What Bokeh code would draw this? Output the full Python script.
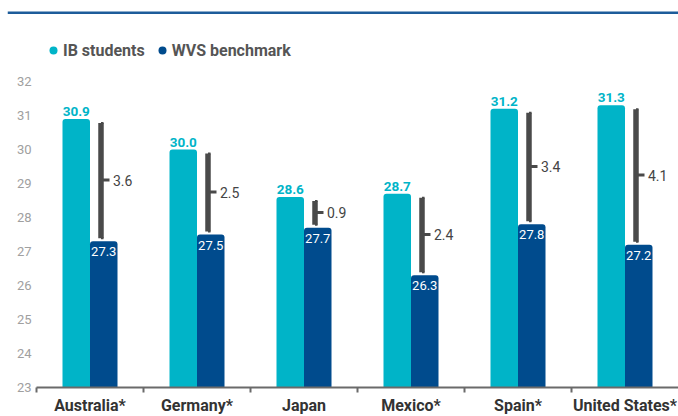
from bokeh.plotting import figure
from bokeh.models import Range1d, FixedTicker, Legend, LegendItem, ColumnDataSource, BoxAnnotation
from bokeh.embed import file_html
from bokeh.resources import INLINE
from bokeh.core.properties import value

countries = ["Australia*", "Germany*", "Japan", "Mexico*", "Spain*", "United States*"]
ib_students = [30.9, 30.0, 28.6, 28.7, 31.2, 31.3]
wvs_benchmark = [27.3, 27.5, 27.7, 26.3, 27.8, 27.2]
differences = [3.6, 2.5, 0.9, 2.4, 3.4, 4.1]
y_ticks = [23, 24, 25, 26, 27, 28, 29, 30, 31, 32]

CYAN = "#00b4c8"
NAVY = "#004b8d"
GREY = "#4a4a4a"
RULE = "#1d5c9a"
FONT = "Roboto"

n = len(countries)
W, H = 678, 416
BL = 7                  # frame starts near the page edge so the top rule can span it
AXIS_X = 36             # pixel where the category area (and y axis) begins
AXIS_Y = 387            # pixel row of the baseline (value 23)
Y_PX = 34.0             # pixels per unit on the value axis
frame_w = W - BL
frame_h = H
unit_px = (W - AXIS_X) / n
x_start = -(AXIS_X - BL) / unit_px
base = y_ticks[0]
y_start = base - (H - AXIS_Y) / Y_PX
y_end = y_start + frame_h / Y_PX
PX = 1 / unit_px          # data units per pixel (x)
PY = 1 / Y_PX             # data units per pixel (y)

centers = [i + 0.5 for i in range(n)]
bw = 27.5 * PX
ib_x = [c - bw / 2 for c in centers]
wvs_x = [c + bw / 2 for c in centers]
br_x = [c + 11 * PX for c in centers]
br_top = [v - 4 * PY for v in ib_students]
br_bot = [v + 3 * PY for v in wvs_benchmark]
br_mid = [(a + b) / 2 for a, b in zip(ib_students, wvs_benchmark)]

src = ColumnDataSource(dict(
    ib_x=ib_x, wvs_x=wvs_x, ib=ib_students, wvs=wvs_benchmark,
    ib_lab=[f"{v:.1f}" for v in ib_students],
    wvs_lab=[f"{v:.1f}" for v in wvs_benchmark],
    br_x=br_x, br_top=br_top, br_bot=br_bot, br_mid=br_mid,
    cap_x1=[x + 2.5 * PX for x in br_x],
    tick_x0=[x + 2 * PX for x in br_x], tick_x1=[x + 8.5 * PX for x in br_x],
    lab_x=[x + 12 * PX for x in br_x],
    diff_lab=[f"{v:.1f}" for v in differences],
))

p = figure(width=W, height=H, x_range=Range1d(x_start, n), y_range=Range1d(y_start, y_end),
           output_backend="svg", toolbar_location=None,
           min_border_left=BL, min_border_right=0, min_border_top=0, min_border_bottom=0)
p.outline_line_color = None
p.grid.visible = False
p.background_fill_color = "white"
p.border_fill_color = "white"

r_ib = p.vbar(x="ib_x", top="ib", bottom=base, width=bw, source=src,
              fill_color=CYAN, line_color=None, border_radius=(3, 3, 0, 0))
r_wvs = p.vbar(x="wvs_x", top="wvs", bottom=base, width=bw, source=src,
               fill_color=NAVY, line_color=None, border_radius=(3, 3, 0, 0))

# difference brackets
p.segment(x0="br_x", y0="br_bot", x1="br_x", y1="br_top", source=src,
          line_color=GREY, line_width=5.5)
p.segment(x0="br_x", y0="br_top", x1="cap_x1", y1="br_top", source=src,
          line_color=GREY, line_width=2)
p.segment(x0="br_x", y0="br_bot", x1="cap_x1", y1="br_bot", source=src,
          line_color=GREY, line_width=2)
p.segment(x0="tick_x0", y0="br_mid", x1="tick_x1", y1="br_mid", source=src,
          line_color=GREY, line_width=3)
p.text(x="lab_x", y="br_mid", text="diff_lab", source=src,
       text_font=value(FONT), text_font_size="14px", text_color="#444444",
       text_align="left", text_baseline="middle")

# value labels
p.text(x="ib_x", y="ib", text="ib_lab", source=src, y_offset=-3,
       text_font=value(FONT), text_font_size="13.5px", text_font_style="bold",
       text_color=CYAN, text_align="center", text_baseline="bottom")
p.text(x="wvs_x", y="wvs", text="wvs_lab", source=src, y_offset=6,
       text_font=value(FONT), text_font_size="13px", text_color="white",
       text_align="center", text_baseline="top")

# y axis drawn at the start of the category area
p.yaxis.fixed_location = 0
p.yaxis.ticker = FixedTicker(ticks=y_ticks)
p.yaxis.axis_line_color = None
p.yaxis.major_tick_line_color = None
p.yaxis.minor_tick_line_color = None
p.yaxis.major_tick_out = 0
p.yaxis.minor_tick_out = 0
p.yaxis.major_label_standoff = 5
p.yaxis.major_label_text_font = FONT
p.yaxis.major_label_text_font_size = "13px"
p.yaxis.major_label_text_color = "#a0a0a0"

# x axis drawn at the baseline value
p.xaxis.fixed_location = base
p.xaxis.bounds = (0, n)
p.xaxis.ticker = FixedTicker(ticks=centers, minor_ticks=list(range(n)))
p.xaxis.major_label_overrides = {c: name for c, name in zip(centers, countries)}
p.xaxis.axis_line_color = "#6a6a6a"
p.xaxis.axis_line_width = 2
p.xaxis.major_tick_line_color = None
p.xaxis.major_tick_out = 0
p.xaxis.major_tick_in = 0
p.xaxis.minor_tick_line_color = "#6a6a6a"
p.xaxis.minor_tick_line_width = 2
p.xaxis.minor_tick_out = 5
p.xaxis.minor_tick_in = 0
p.xaxis.major_label_standoff = 3
p.xaxis.major_label_text_font = FONT
p.xaxis.major_label_text_font_size = "16px"
p.xaxis.major_label_text_font_style = "bold"
p.xaxis.major_label_text_color = "#333333"

# legend with round markers (scatter of zero size, shown only in the legend)
d_ib = p.scatter(x="ib_x", y="ib", source=src, size=0, marker="circle",
                 fill_color=CYAN, line_color=None)
d_wvs = p.scatter(x="wvs_x", y="wvs", source=src, size=0, marker="circle",
                  fill_color=NAVY, line_color=None)
legend = Legend(items=[LegendItem(label="IB students", renderers=[d_ib]),
                       LegendItem(label="WVS benchmark", renderers=[d_wvs])],
                orientation="horizontal", location=(AXIS_X - BL + 7, H - 61),
                glyph_width=20, glyph_height=22, label_standoff=-3, spacing=7,
                padding=0, margin=0, border_line_color=None, background_fill_alpha=0,
                label_text_font=FONT, label_text_font_size="16px",
                label_text_font_style="bold", label_text_color="#555555")
p.add_layout(legend)

# thin rule across the top of the page
rule = BoxAnnotation(top=11, bottom=13.5, top_units="canvas", bottom_units="canvas",
                     fill_color=RULE, fill_alpha=1, line_color=None)
p.add_layout(rule)

open("out.html", "w").write(file_html(p, INLINE))
